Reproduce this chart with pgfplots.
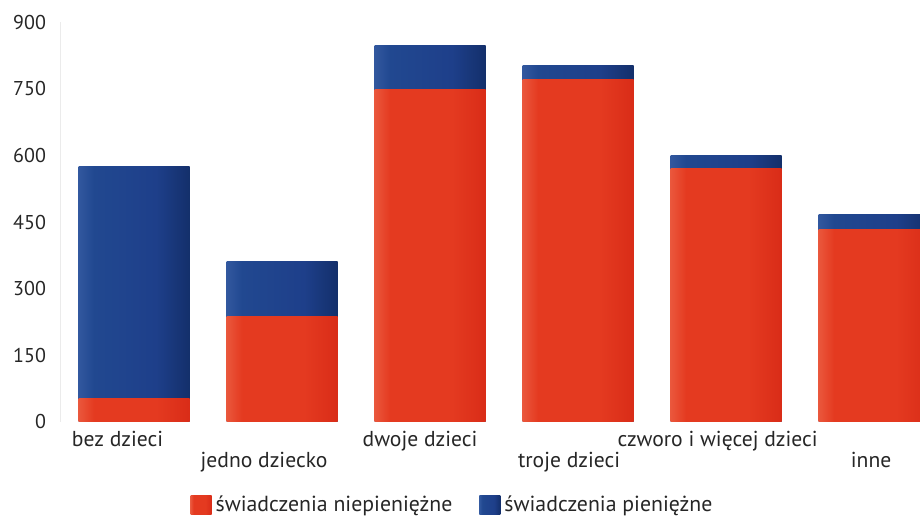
\documentclass[border=0pt]{standalone}
\usepackage{fontspec}
\setmainfont{PT Sans}
\usepackage{pgfplots}
\pgfplotsset{compat=1.18}
\definecolor{rA}{HTML}{E03A1E}
\definecolor{rL}{HTML}{F07458}
\definecolor{rM}{HTML}{E43A20}
\definecolor{rD}{HTML}{D42614}
\definecolor{bA}{HTML}{1E3F8A}
\definecolor{bL}{HTML}{4267AD}
\definecolor{bM}{HTML}{214890}
\definecolor{bD}{HTML}{0E285C}
\definecolor{txt}{HTML}{262626}
\pgfdeclarehorizontalshading{redbar}{100bp}{color(0bp)=(rA); color(18bp)=(rL); color(32bp)=(rM); color(60bp)=(rM); color(82bp)=(rD); color(100bp)=(rA)}
\pgfdeclarehorizontalshading{bluebar}{100bp}{color(0bp)=(bA); color(18bp)=(bL); color(32bp)=(bM); color(60bp)=(bA); color(82bp)=(bD); color(100bp)=(bA)}
\begin{document}
\begin{tikzpicture}
\useasboundingbox (-30pt,-48pt) rectangle (430pt,211pt);
\begin{axis}[
  at={(0,0)}, anchor=south west,
  scale only axis, width=430pt, height=200pt,
  xmin=-0.5, xmax=5.31, ymin=0, ymax=900,
  ybar, bar width=0.75, bar shift=0pt,
  axis x line*=bottom,
  x axis line style={draw=none},
  axis y line*=left,
  y axis line style={draw=black!8, -},
  major tick length=0pt,
  ytick={0,150,...,900},
  xtick={0,...,5},
  xticklabels={{bez dzieci\hspace*{16.5pt}},{\raisebox{-10.5pt}{jedno dziecko}\hspace*{18pt}},{dwoje dzieci\hspace*{10pt}},{\raisebox{-10.5pt}{troje dzieci}\hspace*{9pt}},{czworo i więcej dzieci\hspace*{8.5pt}},{\raisebox{-10.5pt}{inne}\hspace*{3pt}}},
  /pgf/number format/assume math mode=true,
  yticklabel style={font=\fontsize{10}{12}\selectfont, text=txt, xshift=-3.5pt},
  xticklabel style={font=\fontsize{10.8}{12}\selectfont, text=txt, anchor=north, text height=7.8pt, text depth=2pt, yshift=-1pt},
  legend columns=2,
  legend style={at={(0.4576,-0.2075)}, anchor=center, draw=none, fill=none,
    font=\fontsize{10.9}{12}\selectfont, text=txt,
    /tikz/every even column/.append style={column sep=11.5pt}},
  legend image code/.code={\path[#1] (0pt,-4.8pt) rectangle (10.5pt,4.8pt);},
]
\addlegendimage{draw=none, shading=redbar}
\addlegendentry{świadczenia niepieniężne}
\addlegendimage{draw=none, shading=bluebar}
\addlegendentry{świadczenia pieniężne}
% totals (blue top segment reaches the total)
\addplot[forget plot, draw=none, shading=bluebar] coordinates {(0,576)};
\addplot[forget plot, draw=none, shading=bluebar] coordinates {(1,361)};
\addplot[forget plot, draw=none, shading=bluebar] coordinates {(2,847)};
\addplot[forget plot, draw=none, shading=bluebar] coordinates {(3,803)};
\addplot[forget plot, draw=none, shading=bluebar] coordinates {(4,599)};
\addplot[forget plot, draw=none, shading=bluebar] coordinates {(5,466)};
% non-cash benefits (red, bottom segment)
\addplot[forget plot, draw=none, shading=redbar] coordinates {(0,53)};
\addplot[forget plot, draw=none, shading=redbar] coordinates {(1,238)};
\addplot[forget plot, draw=none, shading=redbar] coordinates {(2,749)};
\addplot[forget plot, draw=none, shading=redbar] coordinates {(3,770)};
\addplot[forget plot, draw=none, shading=redbar] coordinates {(4,571)};
\addplot[forget plot, draw=none, shading=redbar] coordinates {(5,434)};
\end{axis}
\end{tikzpicture}
\end{document}
